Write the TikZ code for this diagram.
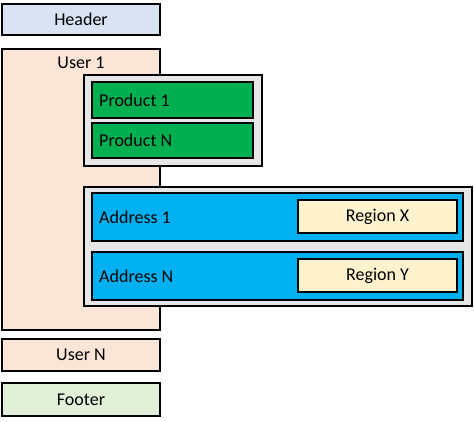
\documentclass[tikz,border=0pt]{standalone}
\usepackage{fontspec}
\setmainfont{Carlito}
\usetikzlibrary{calc}
\definecolor{hdr}{HTML}{DAE3F3}
\definecolor{usr}{HTML}{FBE5D6}
\definecolor{prod}{HTML}{00B050}
\definecolor{addr}{HTML}{00B0F0}
\definecolor{regn}{HTML}{FFF2CC}
\definecolor{ftr}{HTML}{E2F0D9}
\definecolor{cont}{HTML}{E7E6E6}
\tikzset{
  box/.style={draw=black, line width=2.3pt, inner sep=0pt, outer sep=0pt, font=\fontsize{18}{21}\selectfont},
  lbl/.style={inner sep=0pt, anchor=west, font=\fontsize{18}{21}\selectfont},
}
\newcommand{\bx}[7]{% name, x1, y1, x2, y2, fill, text
  \node[box, fill=#6, minimum width={#4-#2}, minimum height={#5-#3}] (#1) at ({(#2+#4)/2},{(#3+#5)/2}) {#7};}
\begin{document}
\begin{tikzpicture}[x=1pt,y=-1pt]
\useasboundingbox (0,0) rectangle (474,421);
\bx{header}{2}{4}{160}{35}{hdr}{Header}
\bx{user1}{2}{49}{160}{330}{usr}{}
\node[lbl, anchor=center] (user1t) at (81,63) {User 1};
\bx{pcont}{84}{75}{262}{166}{cont}{}
\bx{p1}{92}{82}{253}{118}{prod}{}
\node[lbl] (p1t) at ($(p1.west)+(7,0)$) {Product 1};
\bx{pn}{92}{123}{253}{158}{prod}{}
\node[lbl] (pnt) at ($(pn.west)+(7,0)$) {Product N};
\bx{acont}{84}{187}{472}{306}{cont}{}
\bx{a1}{92}{193}{463}{241}{addr}{}
\node[lbl] (a1t) at ($(a1.west)+(7,0)$) {Address 1};
\bx{an}{92}{252}{463}{300}{addr}{}
\node[lbl] (ant) at ($(an.west)+(7,0)$) {Address N};
\bx{rx}{298}{200}{457}{233}{regn}{Region X}
\bx{ry}{298}{259}{457}{292}{regn}{Region Y}
\bx{usern}{2}{339}{160}{371}{usr}{User N}
\bx{footer}{2}{383}{160}{416}{ftr}{Footer}
\end{tikzpicture}
\end{document}
